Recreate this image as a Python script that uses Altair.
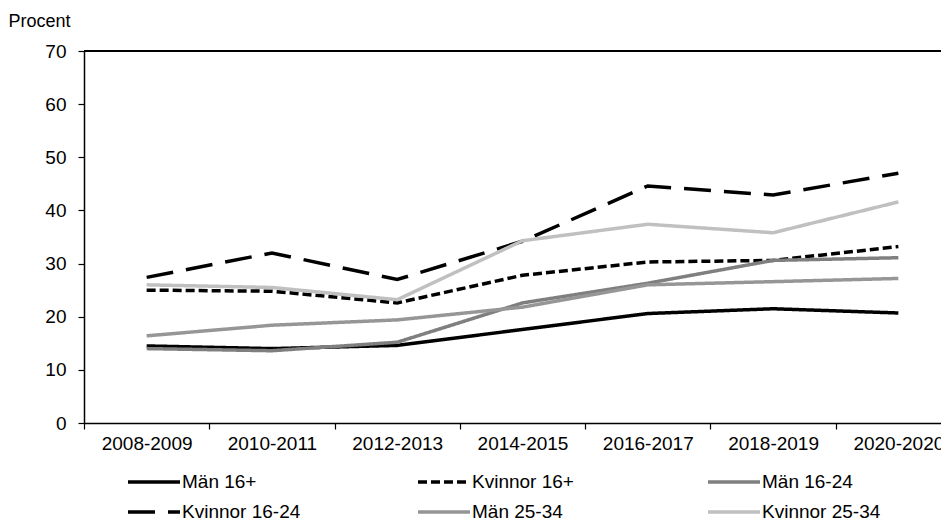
import altair as alt
import pandas as pd

periods = ["2008-2009", "2010-2011", "2012-2013", "2014-2015", "2016-2017", "2018-2019", "2020-2020"]
series = ["Män 16+", "Kvinnor 16+", "Män 16-24", "Kvinnor 16-24", "Män 25-34", "Kvinnor 25-34"]
man_16 = [14.5, 14.0, 14.6, 17.6, 20.6, 21.5, 20.7]
kvinnor_16 = [25.0, 24.8, 22.6, 27.8, 30.3, 30.6, 33.2]
man_16_24 = [14.0, 13.6, 15.2, 22.6, 26.3, 30.6, 31.1]
kvinnor_16_24 = [27.4, 32.0, 27.0, 34.2, 44.6, 42.9, 47.0]
man_25_34 = [16.4, 18.4, 19.4, 21.8, 26.0, 26.6, 27.2]
kvinnor_25_34 = [26.0, 25.5, 23.2, 34.3, 37.4, 35.8, 41.6]

colors = ["#000000", "#000000", "#7f7f7f", "#000000", "#969696", "#c0c0c0"]
dashes = [[1, 0], [9, 4], [1, 0], [27, 13], [1, 0], [1, 0]]

values = [man_16, kvinnor_16, man_16_24, kvinnor_16_24, man_25_34, kvinnor_25_34]
rows = []
for si, (name, vals) in enumerate(zip(series, values)):
    for p, v in zip(periods, vals):
        rows.append({"period": p, "serie": name, "value": v, "ord": si})
df = pd.DataFrame(rows)

FONT = "Liberation Sans"
FS = 19

lines = alt.Chart(df).mark_line(strokeWidth=3.5, strokeCap="butt", strokeJoin="miter").encode(
    x=alt.X("period:N", sort=periods,
            scale=alt.Scale(type="band", domain=periods, range=[0, 877], paddingInner=0, paddingOuter=0),
            axis=alt.Axis(title=None, labelAngle=0, tickBand="extent", tickSize=6, tickColor="#000",
                          domainColor="#000", domainWidth=1.5, tickWidth=1.2, labelFontWeight="normal",
                          labelFontSize=FS, labelColor="#000", labelPadding=5, labelFont=FONT)),
    y=alt.Y("value:Q", scale=alt.Scale(domain=[0, 70], nice=False, zero=True),
            axis=alt.Axis(values=[0, 10, 20, 30, 40, 50, 60, 70], title="Procent", titleAngle=0,
                          titleX=-76, titleY=-25, titleAlign="left", titleBaseline="alphabetic",
                          titleFontSize=18, titleFontWeight="normal", titleFont=FONT, titleColor="#000",
                          grid=False, tickSize=6, tickColor="#000", domainColor="#000", domainWidth=1.5,
                          tickWidth=1.2, labelFontSize=FS, labelColor="#000", labelPadding=12,
                          labelFont=FONT, labelFontWeight="normal")),
    color=alt.Color("serie:N", scale=alt.Scale(domain=series, range=colors),
                    legend=alt.Legend(title=None, orient="none", legendX=42, legendY=416, columns=3,
                                      direction="horizontal",
                                      gridAlign="all", columnPadding=110, rowPadding=5,
                                      symbolType="M-2,0L2,0", symbolSize=676, symbolStrokeWidth=3.5,
                                      labelFontSize=FS, labelFont=FONT, labelColor="#000", labelOffset=13,
                                      padding=0, symbolOffset=13)),
    strokeDash=alt.StrokeDash("serie:N", scale=alt.Scale(domain=series, range=dashes), legend=None),
    order=alt.Order("ord:Q"),
)

top_rule = alt.Chart(df).mark_rule(color="#000", strokeWidth=1.5).encode(y=alt.datum(70))

chart = alt.layer(top_rule, lines).properties(
    width=857, height=372,
    autosize=alt.AutoSizeParams(type="none"),
    padding={"left": 76, "top": 43, "right": 0, "bottom": 99},
).configure_view(stroke=None).configure(font=FONT)

chart.save("out.html", embed_options={"renderer": "svg", "actions": False})
